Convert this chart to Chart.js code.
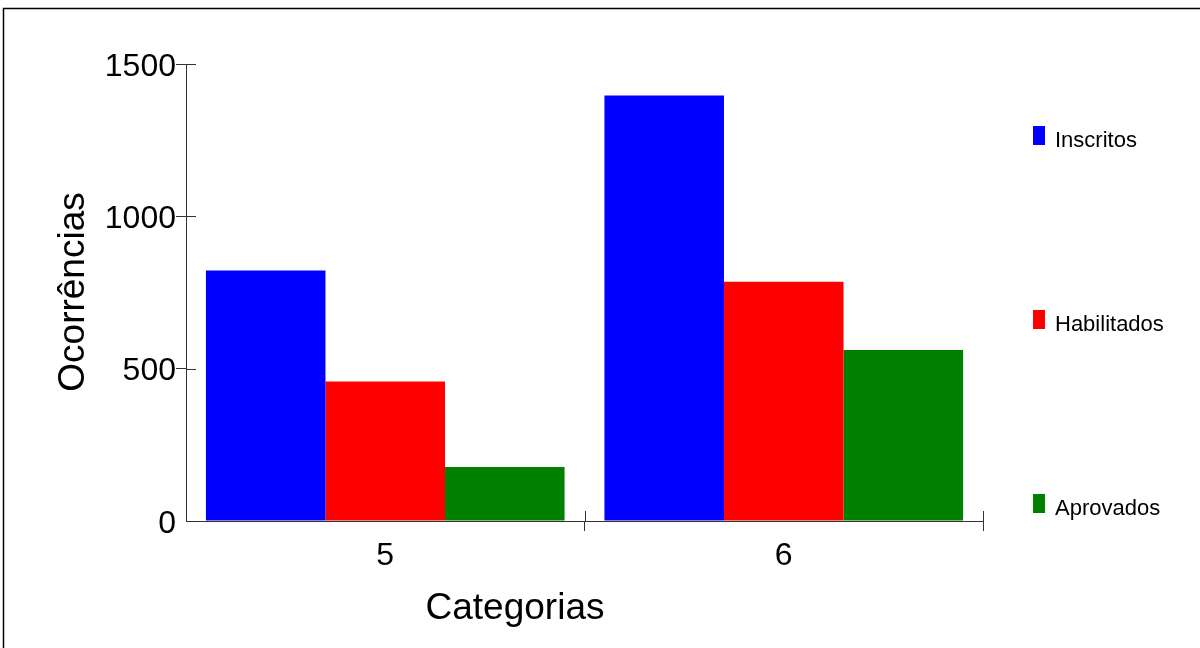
<!DOCTYPE html>
<html>
<head>
<meta charset="utf-8">
<script src="https://cdn.jsdelivr.net/npm/chart.js@4.4.1/dist/chart.umd.min.js"></script>
<style>
  html, body { margin: 0; padding: 0; background: #fff; }
  #wrap { width: 1200px; height: 648px; }
</style>
</head>
<body>
<div id="wrap"><canvas id="c" width="1200" height="648"></canvas></div>
<script>
const categories = ['5', '6'];
const seriesNames = ['Inscritos', 'Habilitados', 'Aprovados'];
const inscritos = [822, 1397];
const habilitados = [458, 785];
const aprovados = [177, 561];
const seriesColors = ['#0000ff', '#ff0000', '#008000'];
const yTicks = [0, 500, 1000, 1500];
const xTitle = 'Categorias';
const yTitle = 'Ocorrências';

const FONT = '"Liberation Sans", Arial, Helvetica, sans-serif';
const AXIS_COLOR = '#333333';

const decorPlugin = {
  id: 'decor',
  beforeDraw(chart) {
    const ctx = chart.ctx;
    ctx.save();
    ctx.fillStyle = '#ffffff';
    ctx.fillRect(0, 0, chart.width, chart.height);
    ctx.strokeStyle = '#000000';
    ctx.lineWidth = 1.5;
    ctx.strokeRect(3.5, 8.5, chart.width + 20, chart.height + 20);
    ctx.restore();
  },
  afterDraw(chart) {
    const ctx = chart.ctx;
    const xs = chart.scales.x, ys = chart.scales.y;
    const area = chart.chartArea;
    ctx.save();
    // inner tick parts (ticks cross the axes)
    ctx.strokeStyle = AXIS_COLOR;
    ctx.lineWidth = 1;
    ys.ticks.forEach((t) => {
      if (t.value === 0) return;
      const y = Math.round(ys.getPixelForValue(t.value)) + 0.5;
      ctx.beginPath();
      ctx.moveTo(area.left, y);
      ctx.lineTo(area.left + 10, y);
      ctx.stroke();
    });
    const step = xs.getPixelForTick(1) - xs.getPixelForTick(0);
    for (let i = 1; i <= categories.length; i++) {
      const x = Math.round(xs.getPixelForTick(i - 1) + step / 2) + 0.5;
      ctx.beginPath();
      ctx.moveTo(x, area.bottom);
      ctx.lineTo(x, area.bottom - 10);
      ctx.stroke();
    }
    // axis titles
    ctx.fillStyle = '#000000';
    ctx.font = '37px ' + FONT;
    ctx.textAlign = 'center';
    ctx.textBaseline = 'alphabetic';
    ctx.fillText(xTitle, 515, 619);
    ctx.save();
    ctx.translate(84, 292);
    ctx.rotate(-Math.PI / 2);
    ctx.fillText(yTitle, 0, 0);
    ctx.restore();
    // legend
    ctx.font = '22px ' + FONT;
    ctx.textAlign = 'left';
    ctx.textBaseline = 'middle';
    chart.data.datasets.forEach((ds, i) => {
      const top = 126 + i * 184;
      ctx.fillStyle = ds.backgroundColor;
      ctx.fillRect(1033, top, 12, 19);
      ctx.fillStyle = '#000000';
      ctx.fillText(ds.label, 1055, top + 15);
    });
    ctx.restore();
  }
};

const datasets = [inscritos, habilitados, aprovados].map((vals, i) => ({
  label: seriesNames[i],
  data: vals,
  backgroundColor: seriesColors[i],
  borderWidth: 0,
  categoryPercentage: 0.9,
  barPercentage: 1.0
}));

new Chart(document.getElementById('c'), {
  type: 'bar',
  data: { labels: categories, datasets },
  options: {
    responsive: false,
    animation: false,
    devicePixelRatio: 1,
    layout: { padding: { left: 0, top: 64, right: 217, bottom: 0 } },
    plugins: {
      legend: { display: false },
      tooltip: { enabled: false },
      title: { display: false }
    },
    scales: {
      x: {
        type: 'category',
        afterFit(scale) { scale.height = 127; },
        grid: {
          display: true,
          drawOnChartArea: false,
          offset: true,
          tickLength: 10,
          color: (c) => (c.index === 0) ? 'rgba(0,0,0,0)' : AXIS_COLOR,
          lineWidth: 1
        },
        border: { display: true, color: AXIS_COLOR, width: 1 },
        ticks: {
          color: '#000000',
          font: { family: FONT, size: 32 },
          padding: 6
        }
      },
      y: {
        min: 0,
        max: 1500,
        afterFit(scale) { scale.width = 186; },
        afterBuildTicks(scale) { scale.ticks = yTicks.map(v => ({ value: v })); },
        grid: {
          display: true,
          drawOnChartArea: false,
          tickLength: 10,
          color: (c) => (c.tick && c.tick.value === 0) ? 'rgba(0,0,0,0)' : AXIS_COLOR,
          lineWidth: 1
        },
        border: { display: true, color: AXIS_COLOR, width: 1 },
        ticks: {
          color: '#000000',
          font: { family: FONT, size: 32 },
          padding: 0,
          labelOffset: 3,
          callback: (v) => String(v)
        }
      }
    }
  },
  plugins: [decorPlugin]
});
</script>
</body>
</html>
